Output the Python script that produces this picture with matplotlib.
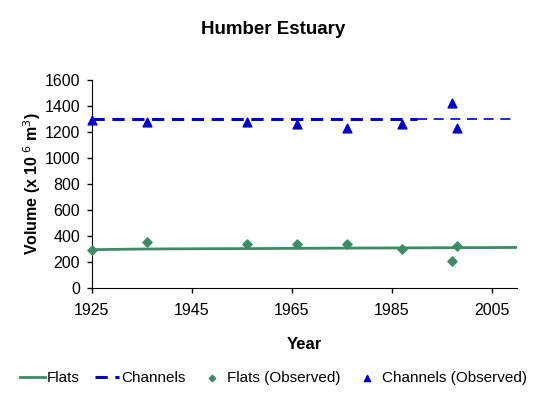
import matplotlib
matplotlib.use("Agg")
import matplotlib.pyplot as plt

plt.rcParams['font.family'] = ['Liberation Sans', 'DejaVu Sans']

# model trend lines
trend_years = [1925, 1935, 1945, 1955, 1965, 1975, 1990, 2010]
flats_trend = [295, 300, 302, 303, 305, 307, 309, 312]
channels_trend = [1300, 1300, 1300, 1300, 1300, 1300, 1300, 1300]

# observations
obs_years = [1925, 1936, 1956, 1966, 1976, 1987, 1997, 1998]
flats_obs = [290, 355, 335, 340, 335, 300, 205, 320]
channels_obs = [1290, 1277, 1275, 1260, 1230, 1260, 1418, 1230]

green = '#3a8c68'
blue = '#0000cc'

fig = plt.figure(figsize=(5.47, 3.99), dpi=100)
ax = fig.add_axes([0.168, 0.278, 0.777, 0.522])

ax.plot(trend_years, flats_trend, color=green, lw=2, label='Flats')
# the channel trend is drawn heavier up to 1990 and lighter afterwards
ax.plot(trend_years[:-1], channels_trend[:-1], color=blue, lw=2.2, ls=(0, (4, 2.5)), label='Channels')
ax.plot(trend_years[-2:], channels_trend[-2:], color=blue, lw=1.2, ls=(0, (6, 4)))
ax.scatter(obs_years, flats_obs, marker='D', s=22, color=green, label='Flats (Observed)', zorder=3, clip_on=False)
ax.scatter(obs_years, channels_obs, marker='^', s=40, color=blue, label='Channels (Observed)', zorder=3, clip_on=False)

ax.set_xlim(1925, 2010)
ax.set_ylim(0, 1600)
ax.set_xticks([1925, 1945, 1965, 1985, 2005])
ax.set_yticks(range(0, 1601, 200))
ax.tick_params(labelsize=11.5, length=3.6, width=1, direction='out')
ax.tick_params(axis='x', pad=7)
ax.tick_params(axis='y', pad=5)
ax.spines['top'].set_visible(False)
ax.spines['right'].set_visible(False)

fig.text(0.5, 1 - 30 / 399, 'Humber Estuary', fontsize=13.5, fontweight='bold',
         ha='center', va='center')
ax.set_xlabel('Year', fontsize=12, fontweight='bold', labelpad=14)
ax.set_ylabel('Volume (x 10$^{\\ 6}$ m$^3$)', fontsize=11.5, fontweight='bold', labelpad=1)

fig.legend(loc='lower center', bbox_to_anchor=(0.5, 0.0), ncol=4, frameon=False,
           fontsize=11, handlelength=1.6, handletextpad=0.15, columnspacing=0.95,
           scatterpoints=1, markerscale=0.7)

fig.savefig('out.png', dpi=100)
